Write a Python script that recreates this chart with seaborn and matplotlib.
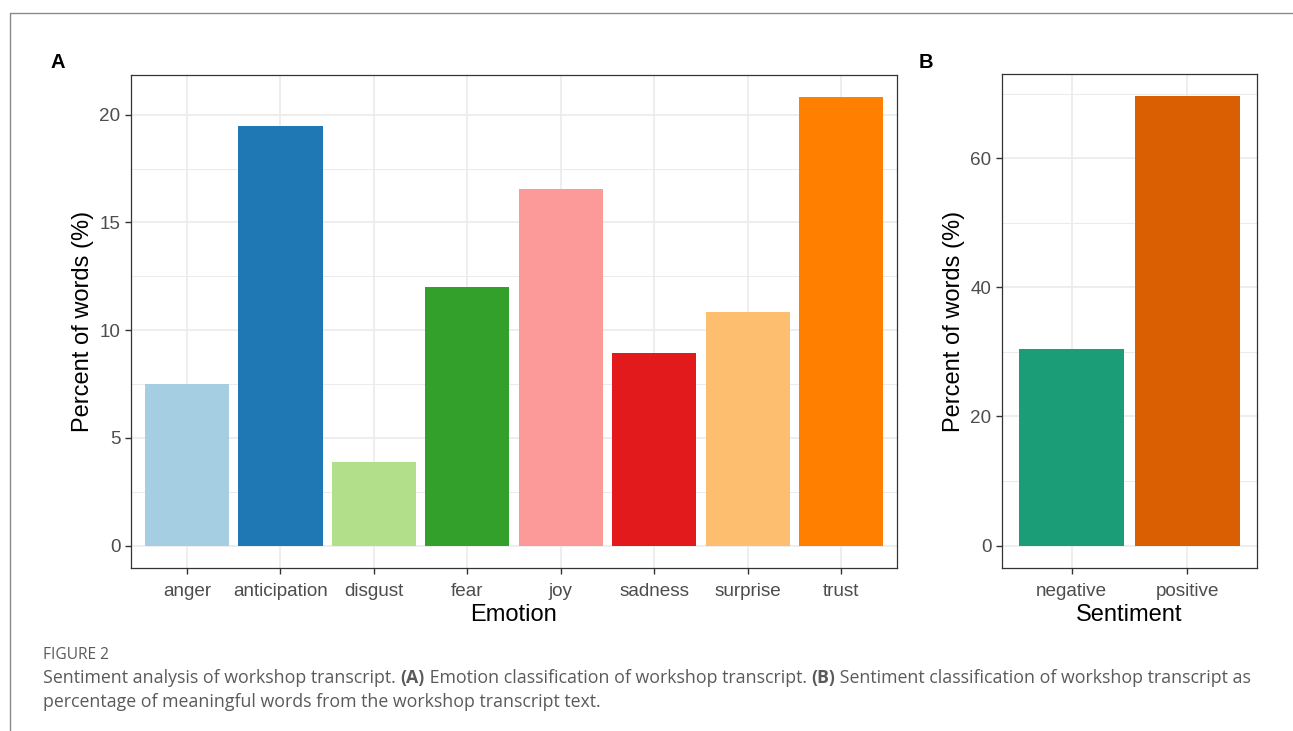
import matplotlib
matplotlib.use("Agg")
import matplotlib.pyplot as plt
from matplotlib.ticker import FixedLocator
from matplotlib.lines import Line2D
import seaborn as sns
import pandas as pd

# Emotion classification (panel A)
emotions = ["anger", "anticipation", "disgust", "fear", "joy", "sadness", "surprise", "trust"]
emotion_pct = [7.5, 19.45, 3.9, 12.0, 16.55, 8.95, 10.85, 20.8]
emotion_colors = ["#A6CEE3", "#1F78B4", "#B2DF8A", "#33A02C",
                  "#FB9A99", "#E31A1C", "#FDBF6F", "#FF7F00"]
emotion_major = [0, 5, 10, 15, 20]
emotion_minor = [2.5, 7.5, 12.5, 17.5]

# Sentiment classification (panel B)
sentiments = ["negative", "positive"]
sentiment_pct = [30.4, 69.6]
sentiment_colors = ["#1B9E77", "#D95F02"]
sentiment_major = [0, 20, 40, 60]
sentiment_minor = [10, 30, 50, 70]

W, H = 1293, 731
sns.set_theme(style="white")
plt.rcParams["font.family"] = ["Liberation Sans", "DejaVu Sans"]

fig = plt.figure(figsize=(W / 100, H / 100), dpi=100)
fig.patch.set_facecolor("white")


def px_axes(left, top, right, bottom):
    return fig.add_axes([left / W, 1 - bottom / H, (right - left) / W, (bottom - top) / H])


def style_panel(ax, n, ymax, major, minor, xlabel):
    ax.set_xlim(-0.6, n - 1 + 0.6)
    ax.set_ylim(-0.05 * ymax, 1.05 * ymax)
    ax.set_axisbelow(True)
    ax.yaxis.set_major_locator(FixedLocator(major))
    ax.yaxis.set_minor_locator(FixedLocator(minor))
    ax.set_yticklabels([str(v) for v in major])
    ax.grid(which="major", color="#EBEBEB", lw=1.2)
    ax.grid(which="minor", axis="y", color="#EBEBEB", lw=0.7)
    ax.tick_params(which="major", length=4.5, width=1.0, color="#333333",
                   labelsize=13.6, labelcolor="#4D4D4D", left=True, bottom=True)
    ax.tick_params(axis="x", which="major", pad=6)
    ax.tick_params(axis="y", which="major", pad=3)
    ax.tick_params(which="minor", length=0)
    for s in ax.spines.values():
        s.set_color("#333333")
        s.set_linewidth(0.9)
    ax.set_xlabel(xlabel, fontsize=17, color="black", labelpad=3)
    ax.set_ylabel("Percent of words (%)", fontsize=17, color="black", labelpad=4)


# Panel A
axA = px_axes(131, 75, 897, 568)
dfA = pd.DataFrame({"emotion": emotions, "pct": emotion_pct})
sns.barplot(data=dfA, x="emotion", y="pct", hue="emotion",
            palette=dict(zip(emotions, emotion_colors)), width=0.9,
            saturation=1, legend=False, ax=axA, edgecolor="none")
style_panel(axA, len(emotions), max(emotion_pct), emotion_major, emotion_minor, "Emotion")

# Panel B
axB = px_axes(1002, 74, 1257, 568)
dfB = pd.DataFrame({"sentiment": sentiments, "pct": sentiment_pct})
sns.barplot(data=dfB, x="sentiment", y="pct", hue="sentiment",
            palette=dict(zip(sentiments, sentiment_colors)), width=0.9,
            saturation=1, legend=False, ax=axB, edgecolor="none")
style_panel(axB, len(sentiments), max(sentiment_pct), sentiment_major, sentiment_minor, "Sentiment")

# Panel tags
fig.text(58 / W, 1 - 63 / H, "A", fontsize=14.5, fontweight="bold", color="black",
         ha="center", va="center")
fig.text(926 / W, 1 - 63 / H, "B", fontsize=14.5, fontweight="bold", color="black",
         ha="center", va="center")

# Page frame (top and left rule)
fig.add_artist(Line2D([10 / W, 1], [1 - 13 / H, 1 - 13 / H], color="#8A8A8A", lw=1.0))
fig.add_artist(Line2D([10 / W, 10 / W], [0, 1 - 13 / H], color="#8A8A8A", lw=1.0))

# Caption
cap_font = ["Open Sans", "DejaVu Sans"]
cap_color = "#5A5A5A"
fig.text(43 / W, 1 - 655 / H, "FIGURE 2", fontsize=11.2, color=cap_color,
         family=cap_font, va="center", ha="left")

renderer = fig.canvas.get_renderer()


def runs(x_px, y_px, pieces, size):
    x = x_px
    for txt, bold in pieces:
        t = fig.text(x / W, 1 - y_px / H, txt, fontsize=size, color=cap_color,
                     family=cap_font, fontweight="bold" if bold else "normal",
                     va="center", ha="left")
        bb = t.get_window_extent(renderer=renderer)
        x += bb.width


cap_size = 12.8
runs(43, 678, [("Sentiment analysis of workshop transcript. ", False), ("(A)", True),
               (" Emotion classification of workshop transcript. ", False), ("(B)", True),
               (" Sentiment classification of workshop transcript as", False)], cap_size)
runs(43, 702, [("percentage of meaningful words from the workshop transcript text.", False)], cap_size)

fig.savefig("out.png", dpi=100, facecolor="white")
